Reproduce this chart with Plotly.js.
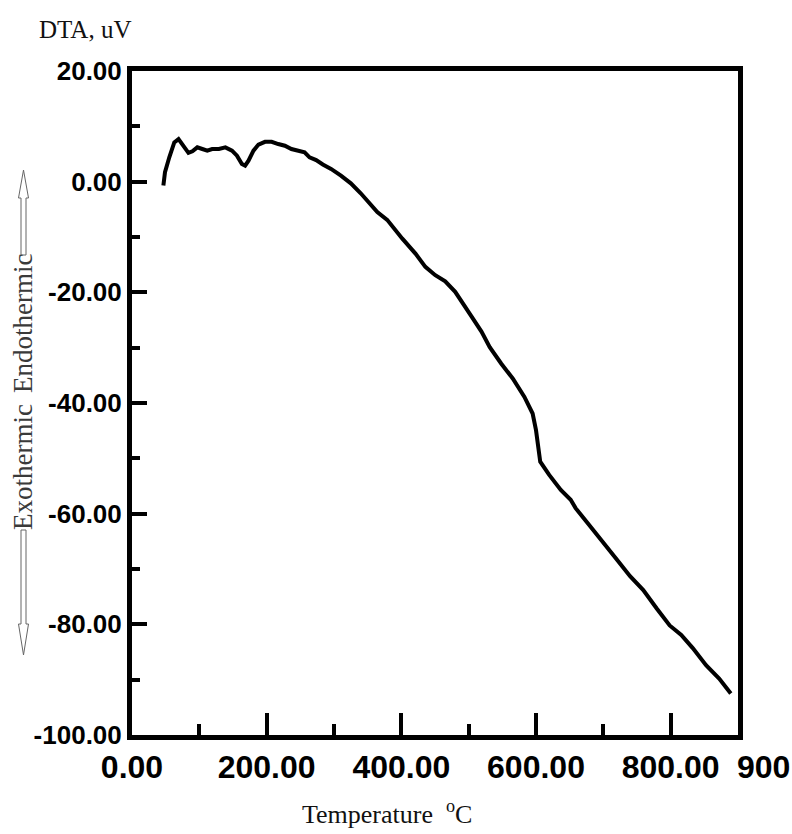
<!DOCTYPE html>
<html>
<head>
<meta charset="utf-8">
<script src="https://cdn.plot.ly/plotly-3.0.1.min.js"></script>
<style>html,body{margin:0;padding:0;background:#fff;}</style>
</head>
<body>
<div id="chart" style="width:792px;height:834px;"></div>
<script>
// ---- data ----
const temps = [46.6, 49, 55.4, 62.8, 69.1, 75, 83.8, 89.7, 97, 104.4, 111.8, 119, 129, 138.7, 148.5, 155.9, 163.2, 168, 173, 180.4, 187.8, 197.5, 207.4, 217.2, 227, 236.8, 246.6, 256.3, 263.7, 273.5, 283.4, 295.6, 310.3, 325, 339.7, 352, 364.3, 379, 390, 401.5, 421, 435.7, 450.4, 465.2, 480, 492.2, 504.4, 519, 531.3, 548.5, 565.7, 582.8, 595, 600, 603.4, 606.3, 619.6, 636.8, 651.5, 658.8, 676, 695.6, 720, 739.7, 759.3, 779, 798.5, 815.7, 832.8, 852.5, 872, 889.3];
const dta = [-0.7, 1.7, 4.4, 7.1, 7.7, 6.8, 5.2, 5.5, 6.2, 5.9, 5.6, 5.9, 5.9, 6.2, 5.6, 4.7, 3.2, 2.9, 3.8, 5.6, 6.7, 7.2, 7.2, 6.8, 6.5, 5.9, 5.6, 5.3, 4.4, 3.9, 3.1, 2.3, 1.1, -0.3, -2.1, -3.7, -5.5, -6.9, -8.6, -10.3, -13.0, -15.4, -16.9, -18.0, -19.9, -22.0, -24.4, -27.1, -29.9, -32.9, -35.6, -38.9, -41.9, -44.9, -47.9, -50.6, -53.0, -55.7, -57.5, -59.0, -61.6, -64.7, -68.3, -71.3, -73.8, -77.1, -80.2, -81.9, -84.3, -87.4, -89.8, -92.5];

const xTickVals = [0, 200, 400, 600, 800];
const xTickText = ['0.00', '200.00', '400.00', '600.00', '800.00'];
const xEndLabel = '900';
const yTickVals = [20, 0, -20, -40, -60, -80, -100];
const yTickText = ['20.00', '0.00', '-20.00', '-40.00', '-60.00', '-80.00', '-100.00'];

const yTitle = 'DTA, uV';
const xTitle = 'Temperature\u00a0\u00a0<sup>o</sup>C';
const endoLabel = 'Endothermic';
const exoLabel = 'Exothermic';

// ---- layout geometry ----
const W = 792, H = 834;
const M = {l: 132, r: 54, t: 71, b: 99};
const PW = W - M.l - M.r, PH = H - M.t - M.b;
const px2x = p => (p - M.l) / PW;
const px2y = p => 1 - (p - M.t) / PH;

function upArrow(cx, tip, headBase, tail, hw, sw) {
  return 'M' + px2x(cx) + ',' + px2y(tip) +
    ' L' + px2x(cx + hw) + ',' + px2y(headBase) +
    ' L' + px2x(cx + sw) + ',' + px2y(headBase) +
    ' L' + px2x(cx + sw) + ',' + px2y(tail) +
    ' L' + px2x(cx - sw) + ',' + px2y(tail) +
    ' L' + px2x(cx - sw) + ',' + px2y(headBase) +
    ' L' + px2x(cx - hw) + ',' + px2y(headBase) + ' Z';
}

const tickFontX = {family: 'Liberation Sans, Arial, sans-serif', size: 32, color: '#000', weight: 'bold'};
const tickFontY = {family: 'Liberation Sans, Arial, sans-serif', size: 26, color: '#000', weight: 'bold'};
const serif = 'Liberation Serif, Times New Roman, serif';

const trace = {
  x: temps, y: dta, type: 'scatter', mode: 'lines',
  line: {color: '#000', width: 4},
  hoverinfo: 'skip'
};

const layout = {
  width: W, height: H,
  margin: M,
  paper_bgcolor: '#fff', plot_bgcolor: '#fff',
  showlegend: false,
  xaxis: {
    range: [0, 900], showgrid: false, zeroline: false,
    showline: true, linewidth: 5, linecolor: '#000', mirror: true,
    ticks: 'inside', ticklen: 22, tickwidth: 4, tickcolor: '#000',
    tickmode: 'array', tickvals: xTickVals, ticktext: xTickText,
    tickfont: tickFontX,
    minor: {dtick: 100, tick0: 0, ticks: 'inside', ticklen: 11, tickwidth: 4, tickcolor: '#000', showgrid: false}
  },
  yaxis: {
    range: [-100, 20], showgrid: false, zeroline: false,
    showline: true, linewidth: 5, linecolor: '#000', mirror: true,
    ticks: 'inside', ticklen: 15, tickwidth: 4, tickcolor: '#000',
    tickmode: 'array', tickvals: yTickVals, ticktext: yTickText,
    tickfont: tickFontY,
    minor: {dtick: 10, tick0: 0, ticks: 'inside', ticklen: 8, tickwidth: 4, tickcolor: '#000', showgrid: false}
  },
  annotations: [
    {text: xEndLabel, xref: 'x', x: 900, yref: 'paper', y: 0, xanchor: 'center', yanchor: 'middle',
     xshift: 25, yshift: -32, showarrow: false, font: tickFontX},
    {text: yTitle, xref: 'paper', x: px2x(85), yref: 'paper', y: px2y(29), xanchor: 'center', yanchor: 'middle',
     showarrow: false, font: {family: serif, size: 25, color: '#111'}},
    {text: xTitle, xref: 'paper', x: px2x(387), yref: 'paper', y: px2y(813), xanchor: 'center', yanchor: 'middle',
     showarrow: false, font: {family: serif, size: 26, color: '#111'}},
    {text: endoLabel, xref: 'paper', x: px2x(23), yref: 'paper', y: px2y(324), xanchor: 'center', yanchor: 'middle',
     textangle: -90, showarrow: false, font: {family: serif, size: 27, color: '#3a3a3a'}},
    {text: exoLabel, xref: 'paper', x: px2x(23), yref: 'paper', y: px2y(467), xanchor: 'center', yanchor: 'middle',
     textangle: -90, showarrow: false, font: {family: serif, size: 27, color: '#3a3a3a'}}
  ],
  shapes: [
    {type: 'path', xref: 'paper', yref: 'paper', path: upArrow(23.5, 170, 198, 255, 5, 2.5),
     line: {color: '#666', width: 1}, fillcolor: '#fff', layer: 'above'},
    {type: 'path', xref: 'paper', yref: 'paper', path: upArrow(23.5, 655, 624, 530, 5, 2.5),
     line: {color: '#666', width: 1}, fillcolor: '#fff', layer: 'above'}
  ]
};

Plotly.newPlot('chart', [trace], layout, {displayModeBar: false, staticPlot: true});
</script>
</body>
</html>
